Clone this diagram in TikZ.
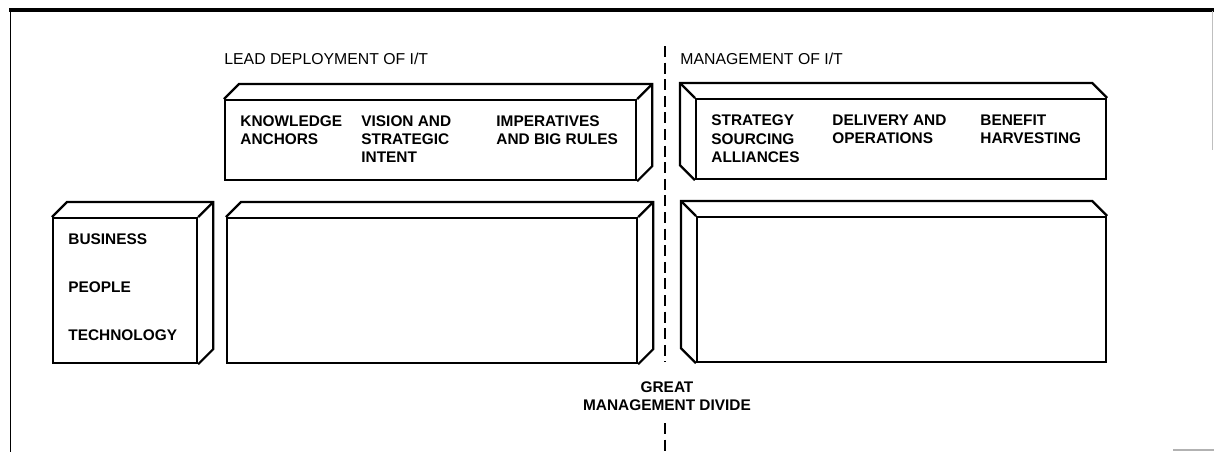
\documentclass[tikz,border=0pt]{standalone}
\usepackage{fontspec}
\setmainfont{Liberation Sans}

\begin{document}
\begin{tikzpicture}[x=0.5pt,y=-0.5pt,
    block/.style={draw,line width=1.1pt,rectangle,fill=white,inner sep=0pt,anchor=north west},
    edge/.style={line width=1.1pt,line join=miter},
    item/.style={inner sep=0pt,anchor=north west,align=left,font=\fontsize{7.7}{9.2}\selectfont\bfseries},
    head/.style={inner sep=0pt,anchor=west,font=\fontsize{7.9}{9.5}\selectfont},
    divider/.style={line width=1pt,dash pattern=on 5.5pt off 2.8pt}]
    \useasboundingbox (0,0) rectangle (1214,452);

    % frame
    \draw[line width=1.6pt] (9,10) -- (1214,10);
    \draw[line width=0.9pt] (10.5,10) -- (10.5,452);
    \draw[gray!50,line width=0.4pt] (1212,11) -- (1212,150);
    \draw[gray!60,line width=0.6pt] (1173,450) -- (1214,450);

    % headings
    \node[head] (leadhead) at (224,59) {LEAD DEPLOYMENT OF I/T};
    \node[head] (mgmthead) at (680,58.5) {MANAGEMENT OF I/T};

    % upper left block
    \node[block,minimum width=205.5pt,minimum height=40pt] (lead) at (224,99) {};
    \draw[edge] (lead.north west) -- ++(15,-15) -- ([shift={(15,-15)}]lead.north east) -- ([shift={(15,-15)}]lead.south east) -- (lead.south east);
    \draw[edge] (lead.north east) -- ++(15,-15);
    \node[item] (anchors) at (240,115) {KNOWLEDGE\\ANCHORS};
    \node[item] (vision) at (361,115) {VISION AND\\STRATEGIC\\INTENT};
    \node[item] (rules) at (496,115) {IMPERATIVES\\AND BIG RULES};

    % upper right block
    \node[block,minimum width=205pt,minimum height=40pt] (mgmt) at (695,98) {};
    \draw[edge] (mgmt.north east) -- ++(-15,-15) -- ([shift={(-15,-15)}]mgmt.north west) -- ([shift={(-15,-15)}]mgmt.south west) -- (mgmt.south west);
    \draw[edge] (mgmt.north west) -- ++(-15,-15);
    \node[item] (sourcing) at (711,114.5) {STRATEGY\\SOURCING\\ALLIANCES};
    \node[item] (delivery) at (832,114.5) {DELIVERY AND\\OPERATIONS};
    \node[item] (benefit) at (980,114.5) {BENEFIT\\HARVESTING};

    % small block on the left
    \node[block,minimum width=72pt,minimum height=72.5pt] (factors) at (52,217) {};
    \draw[edge] (factors.north west) -- ++(15,-15) -- ([shift={(15,-15)}]factors.north east) -- ([shift={(15,-15)}]factors.south east) -- (factors.south east);
    \draw[edge] (factors.north east) -- ++(15,-15);
    \node[item,anchor=west] (business) at (68,239) {BUSINESS};
    \node[item,anchor=west] (people) at (68,287) {PEOPLE};
    \node[item,anchor=west] (technology) at (68,335) {TECHNOLOGY};

    % lower blocks
    \node[block,minimum width=205pt,minimum height=72.5pt] (leadbox) at (226,217) {};
    \draw[edge] (leadbox.north west) -- ++(15,-15) -- ([shift={(15,-15)}]leadbox.north east) -- ([shift={(15,-15)}]leadbox.south east) -- (leadbox.south east);
    \draw[edge] (leadbox.north east) -- ++(15,-15);

    \node[block,minimum width=204.5pt,minimum height=72.5pt] (mgmtbox) at (696,216) {};
    \draw[edge] (mgmtbox.north east) -- ++(-15,-15) -- ([shift={(-15,-15)}]mgmtbox.north west) -- ([shift={(-15,-15)}]mgmtbox.south west) -- (mgmtbox.south west);
    \draw[edge] (mgmtbox.north west) -- ++(-15,-15);

    % the divide
    \node[item,anchor=north,align=center,font=\fontsize{7.7}{9.4}\selectfont\bfseries] (divide) at (667,381) {GREAT\\MANAGEMENT DIVIDE};
    \coordinate (divtop) at (665,46);
    \coordinate (divend) at (665,362);
    \coordinate (divlow) at (665,423);
    \coordinate (divbot) at (665,452);
    \draw[divider] (divtop) -- (divend);
    \draw[divider] (divlow) -- (divbot);
\end{tikzpicture}
\end{document}
